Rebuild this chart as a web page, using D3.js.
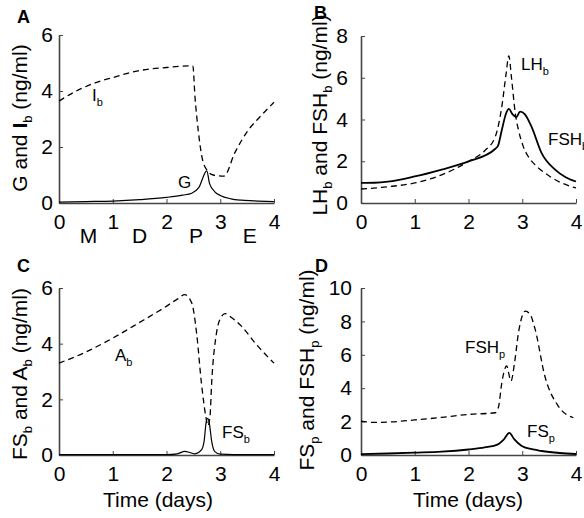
<!DOCTYPE html>
<html>
  <head>
  <title>Hormone panels</title>
  <style>
    body, html { margin: 0; padding: 0; background: #fff; }
    svg { font-family: "Liberation Sans", Arial, Helvetica, sans-serif; display: block; }
  </style>
  </head>
  <body>
  <svg id="svg" width="584" height="518"></svg>

  <script src="https://d3js.org/d3.v7.min.js"></script>
  <script>
    const dayTicks = [0, 1, 2, 3, 4]
    const phaseLabels = ['M', 'D', 'P', 'E']
    const phaseDays = [0.55, 1.5, 2.55, 3.55]

    // panel A
    const ibT = [0, 0.3, 0.67, 1.0, 1.47, 2.0, 2.49, 2.53, 2.59, 2.66, 2.75, 2.87, 3.07, 3.27, 3.52, 3.75, 4.0]
    const ibV = [3.64, 3.98, 4.29, 4.48, 4.72, 4.84, 4.9, 3.79, 2.6, 1.64, 1.18, 1.0, 0.96, 1.79, 2.6, 3.1, 3.6]
    const gT = [0, 0.5, 1.0, 1.5, 2.0, 2.3, 2.47, 2.6, 2.75, 2.8, 2.9, 3.0, 3.2, 3.4, 3.7, 4.0]
    const gV = [0.03, 0.05, 0.07, 0.12, 0.2, 0.28, 0.35, 0.55, 1.15, 0.7, 0.4, 0.27, 0.15, 0.1, 0.07, 0.05]

    // panel B
    const fshbT = [0, 0.25, 0.5, 1.0, 1.5, 2.0, 2.5, 2.55, 2.62, 2.7, 2.75, 2.82, 2.89, 2.96, 3.05, 3.17, 3.36, 3.61, 3.8, 4.0]
    const fshbV = [0.96, 0.97, 1.02, 1.27, 1.6, 1.99, 2.6, 2.75, 3.5, 4.3, 4.51, 4.25, 4.11, 4.38, 4.25, 3.67, 2.39, 1.6, 1.25, 1.03]
    const lhbT = [0, 0.5, 1.0, 1.5, 2.0, 2.3, 2.5, 2.62, 2.7, 2.75, 2.8, 2.87, 2.93, 3.02, 3.11, 3.25, 3.42, 3.7, 4.0]
    const lhbV = [0.67, 0.78, 0.96, 1.35, 1.99, 2.5, 3.19, 4.62, 6.2, 7.05, 6.0, 4.3, 3.5, 2.7, 2.23, 1.8, 1.44, 1.0, 0.72]

    // panel C
    const abT = [0, 0.5, 1.0, 1.48, 1.97, 2.2, 2.34, 2.47, 2.56, 2.65, 2.73, 2.77, 2.81, 2.84, 2.93, 3.0, 3.09, 3.2, 3.4, 3.65, 4.0]
    const abV = [3.3, 3.7, 4.2, 4.74, 5.31, 5.6, 5.76, 5.46, 4.38, 2.58, 1.4, 1.05, 1.4, 2.58, 4.38, 4.9, 5.08, 4.95, 4.62, 4.02, 3.3]
    const fsbT = [0, 1.0, 2.0, 2.2, 2.34, 2.45, 2.53, 2.65, 2.7, 2.74, 2.77, 2.8, 2.84, 2.9, 3.0, 3.5, 4.0]
    const fsbV = [0.01, 0.01, 0.01, 0.04, 0.13, 0.08, 0.04, 0.18, 0.5, 1.2, 1.32, 1.1, 0.5, 0.12, 0.03, 0.01, 0.01]

    // panel D
    const fshpT = [0, 0.25, 0.5, 1.0, 1.5, 2.0, 2.5, 2.56, 2.62, 2.71, 2.79, 2.86, 2.93, 3.06, 3.15, 3.24, 3.42, 3.67, 3.95]
    const fshpV = [2.03, 1.95, 1.97, 2.1, 2.25, 2.43, 2.53, 2.9, 4.33, 5.33, 4.43, 5.6, 7.32, 8.62, 8.4, 7.52, 4.73, 2.93, 2.23]
    const fspT = [0, 0.5, 1.0, 1.5, 2.0, 2.3, 2.55, 2.65, 2.76, 2.85, 2.99, 3.2, 3.36, 3.7, 4.0]
    const fspV = [0.05, 0.09, 0.14, 0.2, 0.33, 0.45, 0.64, 0.9, 1.33, 0.95, 0.54, 0.33, 0.24, 0.12, 0.06]

    const svg = d3.select('#svg')
    const zip = (t, v) => t.map((d, i) => [d, v[i]])

    function panel(p) {
      const x = d3.scaleLinear().domain([0, 4]).range([p.x0, p.x1])
      const y = d3.scaleLinear().domain([0, p.ymax]).range([p.y0, p.y1])
      const g = svg.append('g')

      g.append('g')
        .attr('transform', `translate(0,${p.y0})`)
        .call(d3.axisBottom(x).tickValues(dayTicks).tickFormat(d3.format('d'))
          .tickSizeInner(-4).tickSizeOuter(0).tickPadding(11))
      g.append('g')
        .attr('transform', `translate(${p.x0},0)`)
        .call(d3.axisLeft(y).tickValues(p.yticks).tickFormat(d3.format('d'))
          .tickSizeInner(-4).tickSizeOuter(0).tickPadding(p.pad))
      g.selectAll('.domain').attr('stroke', '#444').attr('stroke-width', 1.6)
      g.selectAll('.tick line').attr('stroke', '#444')
      g.selectAll('.tick text').attr('font-size', 21).attr('fill', '#000')
        .attr('font-family', '"Liberation Sans", Arial, sans-serif')

      const line = d3.line()
        .x(d => x(d[0]))
        .y(d => y(d[1]))
        .curve(d3.curveMonotoneX)

      p.series.forEach(s => {
        g.append('path')
          .attr('d', line(zip(s.t, s.v)))
          .attr('fill', 'none')
          .attr('stroke', '#000')
          .attr('stroke-width', s.w)
          .attr('stroke-dasharray', s.dash ? '6,4' : null)
      })

      g.append('text').attr('x', p.lx).attr('y', p.ly)
        .attr('font-size', 18).attr('font-weight', 'bold').text(p.letter)

      // y title, rotated, with subscripts
      const title = g.append('text')
        .attr('transform', `translate(${p.tx},${p.ty}) rotate(-90)`)
        .attr('text-anchor', 'middle')
        .attr('font-size', 21)
      p.title.forEach(part => {
        const ts = title.append('tspan').text(part.s)
        if (part.sub) ts.attr('font-size', 13).attr('dy', 5)
        if (part.back) ts.attr('dy', -5)
        if (part.bold) ts.attr('font-weight', 'bold')
      })

      p.notes.forEach(n => {
        const t = g.append('text').attr('x', n.x).attr('y', n.y).attr('font-size', 17)
        t.append('tspan').text(n.s)
        if (n.sub) t.append('tspan').attr('font-size', 11).attr('dy', 5).text(n.sub)
      })

      if (p.time) {
        g.append('text')
          .attr('x', p.time).attr('y', 507)
          .attr('text-anchor', 'middle').attr('font-size', 21)
          .text('Time (days)')
      }
      return x
    }

    const xA = panel({
      letter: 'A', lx: 17, ly: 23,
      x0: 59, x1: 274, y0: 203, y1: 35, ymax: 6, yticks: [0, 2, 4, 6], pad: 6,
      series: [{ t: ibT, v: ibV, dash: true, w: 1.3 }, { t: gT, v: gV, w: 1.2 }],
      tx: 27, ty: 118,
      title: [{ s: 'G and ' }, { s: 'I', bold: true }, { s: 'b', sub: true }, { s: ' (ng/ml)', back: true }],
      notes: [{ s: 'I', sub: 'b', x: 92, y: 101 }, { s: 'G', x: 178, y: 188 }]
    })
    svg.append('g').selectAll('text')
      .data(phaseLabels)
      .join('text')
      .attr('x', (d, i) => xA(phaseDays[i]))
      .attr('y', 243)
      .attr('text-anchor', 'middle')
      .attr('font-size', 21)
      .text(d => d)

    panel({
      letter: 'B', lx: 314, ly: 19,
      x0: 361, x1: 576, y0: 203, y1: 36, ymax: 8, yticks: [0, 2, 4, 6, 8], pad: 13,
      series: [{ t: lhbT, v: lhbV, dash: true, w: 1.3 }, { t: fshbT, v: fshbV, w: 1.8 }],
      tx: 327, ty: 115,
      title: [{ s: 'LH' }, { s: 'b', sub: true }, { s: ' and FSH', back: true }, { s: 'b', sub: true }, { s: ' (ng/ml)', back: true }],
      notes: [{ s: 'LH', sub: 'b', x: 521, y: 70 }, { s: 'FSH', sub: 'b', x: 548, y: 145 }]
    })

    panel({
      letter: 'C', lx: 17, ly: 272,
      x0: 59, x1: 274, y0: 455, y1: 288, ymax: 6, yticks: [0, 2, 4, 6], pad: 6,
      series: [{ t: abT, v: abV, dash: true, w: 1.3 }, { t: fsbT, v: fsbV, w: 1.2 }],
      tx: 27, ty: 374,
      title: [{ s: 'FS' }, { s: 'b', sub: true }, { s: ' and A', back: true }, { s: 'b', sub: true }, { s: ' (ng/ml)', back: true }],
      notes: [{ s: 'A', sub: 'b', x: 115, y: 361 }, { s: 'FS', sub: 'b', x: 222, y: 438 }],
      time: 158
    })

    panel({
      letter: 'D', lx: 315, ly: 272,
      x0: 361, x1: 576, y0: 455, y1: 288, ymax: 10, yticks: [0, 2, 4, 6, 8, 10], pad: 9,
      series: [{ t: fshpT, v: fshpV, dash: true, w: 1.3 }, { t: fspT, v: fspV, w: 1.8 }],
      tx: 314, ty: 370,
      title: [{ s: 'FS' }, { s: 'p', sub: true }, { s: ' and FSH', back: true }, { s: 'p', sub: true }, { s: ' (ng/ml)', back: true }],
      notes: [{ s: 'FSH', sub: 'p', x: 465, y: 353 }, { s: 'FS', sub: 'p', x: 527, y: 437 }],
      time: 468
    })
  </script>
  </body>
</html>
